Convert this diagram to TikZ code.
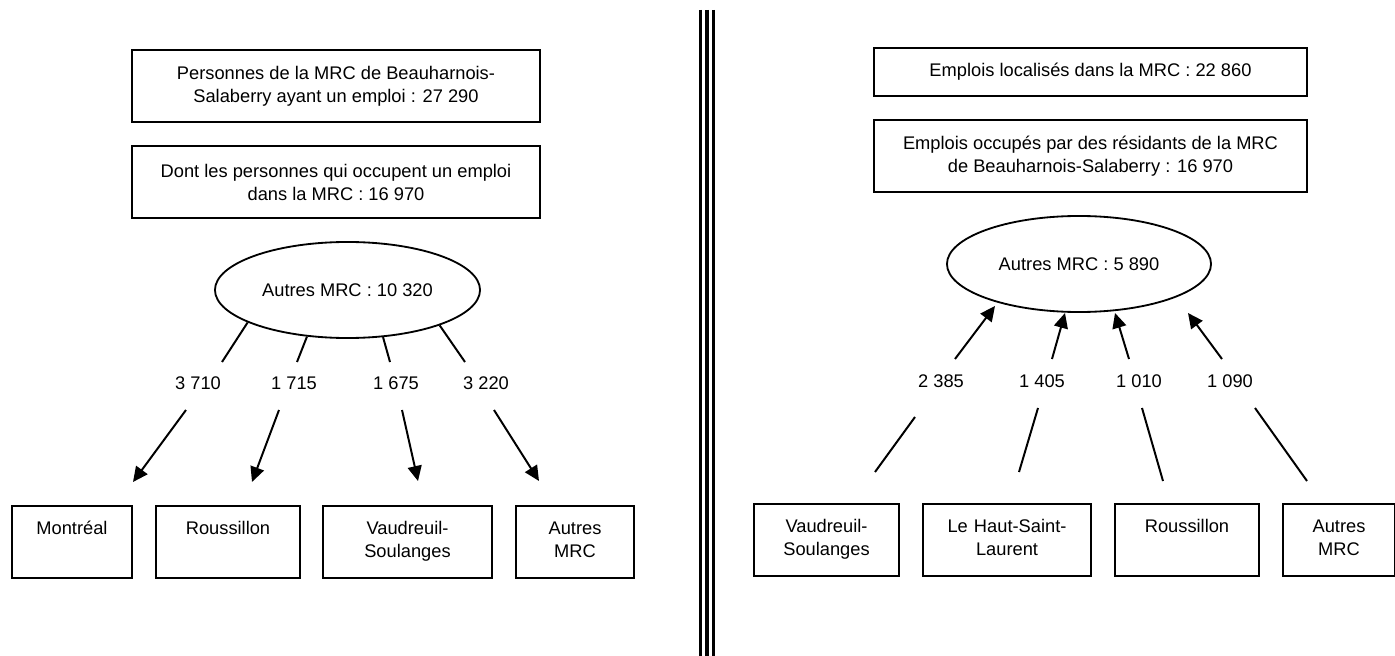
\documentclass[tikz,border=0pt]{standalone}
\usepackage{fontspec}
\setmainfont{Liberation Sans}
\usetikzlibrary{shapes.geometric,arrows.meta,positioning,calc}
\tikzstyle{Total} = [draw, shape = rectangle, line width=1.2pt, inner sep=0pt, align=center]
\tikzstyle{Others} = [draw, ellipse, line width=1.3pt, inner sep=0pt, minimum height=2.4cm]
\tikzstyle{Town} = [draw, shape = rectangle, line width=1.2pt, inner sep=0pt, align=center, text height=0.7cm, text depth=1.1cm]
\tikzstyle{Count} = [inner sep=1pt]
\tikzstyle{Arrow} = [-{Triangle[length=0.375cm,width=0.35cm]}, line width=1.4pt]
\tikzstyle{Link} = [line width=1.4pt]

\begin{document}
\begin{tikzpicture}[x=0.025cm, y=-0.025cm]
        \tikzstyle{every node} = [font=\fontsize{13}{16.4}\selectfont]
        \useasboundingbox (0,0) rectangle (1395,656);

        %%%%% Left Side %%%%%

        \draw node[Total, minimum width=10.2cm, minimum height=1.8cm] at (336,86) (A) {Personnes de la MRC de Beauharnois-\\Salaberry ayant un emploi : 27 290};
        \draw node[Total, minimum width=10.2cm, minimum height=1.8cm] at ($(A)+(0,96)$) (B) {Dont les personnes qui occupent un emploi\\dans la MRC : 16 970};
        \draw node[Others, minimum width=6.625cm] at (347.5,290) (C) {Autres MRC : 10 320};

        \node[Count] at (198,383) (D) {3 710};
        \node[Count] at (294,383) (E) {1 715};
        \node[Count] at (396,383) (F) {1 675};
        \node[Count] at (486,383) (G) {3 220};

        \draw node[Town, text width=3cm] at (72,542) (H) {Montréal};
        \draw node[Town, text width=3.6cm] at (228,542) (I) {Roussillon};
        \draw node[Town, text width=4.225cm] at (407.5,542) (J) {Vaudreuil-\\Soulanges};
        \draw node[Town, text width=2.95cm] at (575,542) (K) {Autres\\MRC};

        %%%%% Right Side %%%%%

        \draw node[Total, minimum width=10.825cm, minimum height=1.2cm] at (1090.5,72) (L) {Emplois localisés dans la MRC : 22 860};
        \draw node[Total, minimum width=10.825cm, minimum height=1.8cm] at ($(L)+(0,84)$) (M) {Emplois occupés par des résidants de la MRC\\de Beauharnois-Salaberry : 16 970};
        \draw node[Others, minimum width=6.6cm] at (1079,264) (N) {Autres MRC : 5 890};

        \node[Count] at (941,381) (O) {2 385};
        \node[Count] at (1042,381) (P) {1 405};
        \node[Count] at (1139,381) (Q) {1 010};
        \node[Count] at (1230,381) (R) {1 090};

        \draw node[Town, text width=3.625cm] at (826.5,540) (S) {Vaudreuil-\\Soulanges};
        \draw node[Town, text width=4.2cm] at (1007,540) (T) {Le Haut-Saint-\\Laurent};
        \draw node[Town, text width=3.6cm] at (1187,540) (U) {Roussillon};
        \draw node[Town, text width=2.8cm] at (1339,540) (V) {Autres\\MRC};

        %%%%% Loose Ends %%%%%

        \coordinate (a1) at (222,362);
        \coordinate (a2) at (297,362);
        \coordinate (a3) at (390,362);
        \coordinate (a4) at (465,362);
        \coordinate (b1) at (186,410);
        \coordinate (b2) at (279,410);
        \coordinate (b3) at (402,410);
        \coordinate (b4) at (494,410);
        \coordinate (e1) at (133,482);
        \coordinate (e2) at (252,482);
        \coordinate (e3) at (418,481);
        \coordinate (e4) at (539,481);

        \coordinate (r1) at (955,359);
        \coordinate (r2) at (1052,359);
        \coordinate (r3) at (1129,359);
        \coordinate (r4) at (1222,359);
        \coordinate (t1) at (995,306);
        \coordinate (t2) at (1065,313);
        \coordinate (t3) at (1115,313);
        \coordinate (t4) at (1188,313);
        \coordinate (u1) at (915,417);
        \coordinate (u2) at (1038,408);
        \coordinate (u3) at (1142,408);
        \coordinate (u4) at (1255,408);
        \coordinate (w1) at (875,472);
        \coordinate (w2) at (1019,472);
        \coordinate (w3) at (1163,481);
        \coordinate (w4) at (1307,481);

        %%%%% Connecting Lines %%%%%

        \draw [Link] (C.198.7) -- (a1);
        \draw [Link] (C.229.2) -- (a2);
        \draw [Link] (C.307) -- (a3);
        \draw [Link] (C.339.7) -- (a4);
        \draw [Arrow] (b1) -- (e1);
        \draw [Arrow] (b2) -- (e2);
        \draw [Arrow] (b3) -- (e3);
        \draw [Arrow] (b4) -- (e4);

        \draw [Arrow] (r1) -- (t1);
        \draw [Arrow] (r2) -- (t2);
        \draw [Arrow] (r3) -- (t3);
        \draw [Arrow] (r4) -- (t4);
        \draw [Link] (u1) -- (w1);
        \draw [Link] (u2) -- (w2);
        \draw [Link] (u3) -- (w3);
        \draw [Link] (u4) -- (w4);

        %%%%% Separator %%%%%

        \draw [line width=1.8pt] (700.5,10) -- (700.5,656);
        \draw [line width=3.5pt] (707,10) -- (707,656);
        \draw [line width=1.9pt] (713.5,10) -- (713.5,656);

\end{tikzpicture}
\end{document}
